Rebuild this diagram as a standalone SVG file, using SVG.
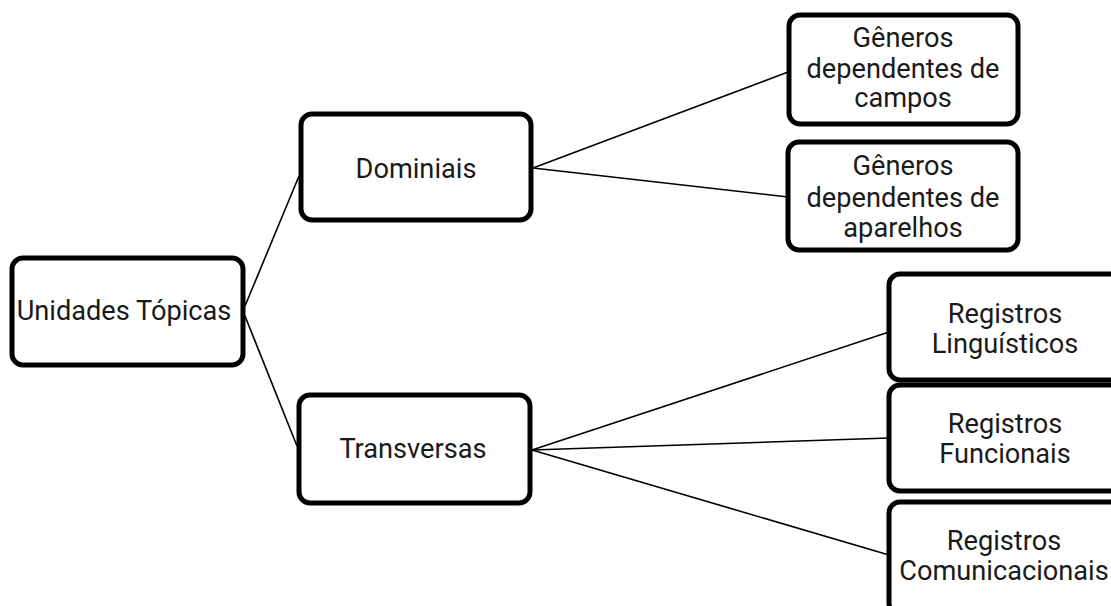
<svg xmlns="http://www.w3.org/2000/svg" width="1111" height="606" viewBox="0 0 1111 606">
<style>
.box{fill:#fff;stroke:#000;stroke-width:5}
.lbl{font-family:Roboto,"Liberation Sans",sans-serif;font-size:27.2px;fill:#1a1a1a;text-anchor:middle}
.con{stroke:#000;stroke-width:1.6;fill:none}
</style>
<rect width="1111" height="606" fill="#fff"/>
<g id="connectors">
<line class="con" x1="245" y1="306" x2="299" y2="176"/>
<line class="con" x1="245" y1="316" x2="297" y2="446"/>
<line class="con" x1="533" y1="168" x2="788" y2="72"/>
<line class="con" x1="533" y1="168" x2="788" y2="197"/>
<line class="con" x1="532" y1="450" x2="889" y2="332"/>
<line class="con" x1="532" y1="450" x2="889" y2="438"/>
<line class="con" x1="532" y1="450" x2="889" y2="555"/>
</g>
<g id="unidades">
<rect class="box" x="12" y="258" width="231" height="107" rx="11"/>
<text class="lbl" x="124" y="320">Unidades Tópicas</text>
</g>
<g id="dominiais">
<rect class="box" x="301" y="114" width="230" height="106" rx="11"/>
<text class="lbl" x="416" y="178">Dominiais</text>
</g>
<g id="transversas">
<rect class="box" x="299" y="395" width="231" height="108" rx="11"/>
<text class="lbl" x="413" y="458">Transversas</text>
</g>
<g id="generos-campos">
<rect class="box" x="789" y="15" width="229" height="109" rx="11"/>
<text class="lbl" x="903" y="47">Gêneros</text>
<text class="lbl" x="903" y="78">dependentes de</text>
<text class="lbl" x="903" y="107">campos</text>
</g>
<g id="generos-aparelhos">
<rect class="box" x="788" y="142" width="230" height="108" rx="11"/>
<text class="lbl" x="903" y="175">Gêneros</text>
<text class="lbl" x="903" y="207">dependentes de</text>
<text class="lbl" x="903" y="237">aparelhos</text>
</g>
<g id="registros-linguisticos">
<rect class="box" x="889" y="274" width="240" height="106" rx="11"/>
<text class="lbl" x="1005" y="323">Registros</text>
<text class="lbl" x="1005" y="353">Linguísticos</text>
</g>
<g id="registros-funcionais">
<rect class="box" x="889" y="385" width="240" height="106" rx="11"/>
<text class="lbl" x="1005" y="433">Registros</text>
<text class="lbl" x="1005" y="463">Funcionais</text>
</g>
<g id="registros-comunicacionais">
<rect class="box" x="889" y="502" width="240" height="112" rx="11"/>
<text class="lbl" x="1004" y="550">Registros</text>
<text class="lbl" x="1004" y="580">Comunicacionais</text>
</g>
</svg>
